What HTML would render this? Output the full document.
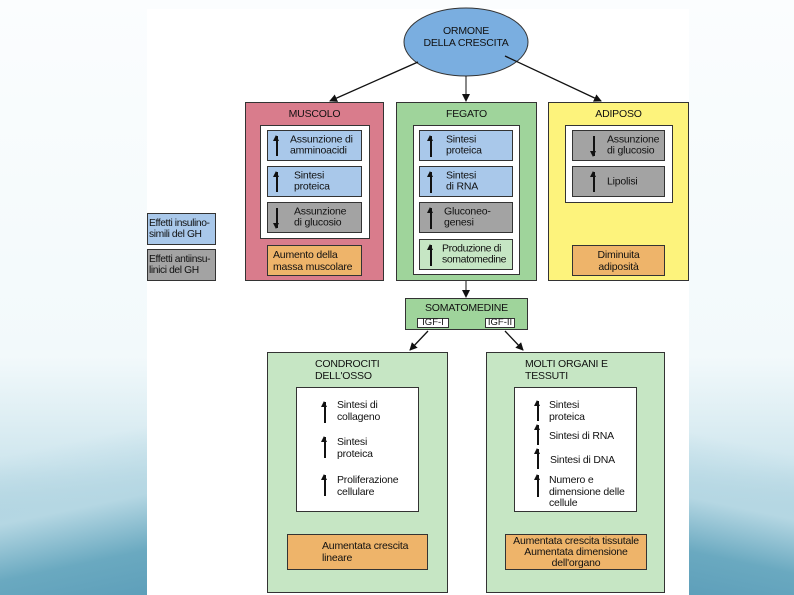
<!DOCTYPE html>
<html><head><meta charset="utf-8"><style>
html,body{margin:0;width:794px;height:595px;overflow:hidden;}
body{position:relative;font-family:"Liberation Sans",sans-serif;color:#111;background:linear-gradient(180deg,#fbfdfe 0%,#f2f9fb 60%,#cfe6ee 78%,#7fb6cb 100%);}
.a{position:absolute;box-sizing:border-box;}
.b{border:1px solid #333;}
.t{font-size:10.5px;line-height:11.5px;letter-spacing:-0.2px;}
.tx{position:absolute;left:22px;top:50%;transform:translateY(-50%);white-space:nowrap;}
.up,.dn{position:absolute;width:1.6px;background:#111;}
.up::before,.dn::before{content:"";position:absolute;left:-3px;border-left:3.8px solid transparent;border-right:3.8px solid transparent;}
.up::before{top:-1px;border-bottom:6px solid #111;}
.dn::before{bottom:-1px;border-top:6px solid #111;}
.blue{background:#a9c8ea;}.gray{background:#a3a3a3;}.or{background:#eeb46a;}.lg{background:#c6e6c4;}
</style></head><body>
<div class="a" style="left:0;top:400px;width:150px;height:195px;background:linear-gradient(168deg,rgba(255,255,255,0) 25%,#b5d7e3 55%,#6aa9c0 80%,#5e9fba 100%)"></div>
<div class="a" style="left:689px;top:400px;width:105px;height:195px;background:linear-gradient(192deg,rgba(255,255,255,0) 25%,#b5d7e3 55%,#6aa9c0 80%,#5e9fba 100%)"></div>
<div class="a" style="left:147px;top:9px;width:542px;height:586px;background:#fff"></div>
<svg class="a" style="left:0;top:0" width="794" height="595">
<defs><marker id="m" markerWidth="8" markerHeight="8" refX="7" refY="4" orient="auto" markerUnits="userSpaceOnUse"><path d="M0,0L8,4L0,8z" fill="#111"/></marker></defs>
<ellipse cx="466" cy="42" rx="62" ry="34" fill="#7aaee0" stroke="#333"/>
<line x1="418" y1="62" x2="330" y2="101" stroke="#111" stroke-width="1.3" marker-end="url(#m)"/>
<line x1="466" y1="76" x2="466" y2="101" stroke="#111" stroke-width="1" marker-end="url(#m)"/>
<line x1="505" y1="56" x2="601" y2="101" stroke="#111" stroke-width="1.3" marker-end="url(#m)"/>
<line x1="466" y1="281" x2="466" y2="297" stroke="#111" stroke-width="1" marker-end="url(#m)"/>
<line x1="428" y1="331" x2="410" y2="350" stroke="#111" stroke-width="1.3" marker-end="url(#m)"/>
<line x1="505" y1="331" x2="523" y2="350" stroke="#111" stroke-width="1.3" marker-end="url(#m)"/>
</svg>
<div class="a t" style="left:404px;top:26px;width:124px;text-align:center;">ORMONE<br>DELLA CRESCITA</div>

<div class="a b" style="left:147px;top:213px;width:69px;height:32px;background:#a9c8ea;font-size:10.3px;line-height:11px;padding:4px 1px;letter-spacing:-0.4px">Effetti insulino-<br>simili del GH</div>
<div class="a b" style="left:147px;top:249px;width:69px;height:32px;background:#a3a3a3;font-size:10.3px;line-height:11px;padding:4px 1px;letter-spacing:-0.4px">Effetti antiinsu-<br>linici del GH</div>

<!-- Muscolo -->
<div class="a b" style="left:245px;top:102px;width:139px;height:179px;background:#d97c8c"></div>
<div class="a t" style="left:245px;top:109px;width:139px;text-align:center">MUSCOLO</div>
<div class="a b" style="left:260px;top:125px;width:110px;height:114px;background:#fff"></div>
<div class="a b t blue" style="left:267px;top:130px;width:95px;height:31px"><i class="up" style="left:8px;top:5px;height:20px"></i><span class="tx">Assunzione di<br>amminoacidi</span></div>
<div class="a b t blue" style="left:267px;top:166px;width:95px;height:31px"><i class="up" style="left:8px;top:5px;height:20px"></i><span class="tx" style="left:26px">Sintesi<br>proteica</span></div>
<div class="a b t gray" style="left:267px;top:202px;width:95px;height:31px"><i class="dn" style="left:8px;top:5px;height:20px"></i><span class="tx" style="left:26px">Assunzione<br>di glucosio</span></div>
<div class="a b t or" style="left:267px;top:245px;width:95px;height:31px;padding:4px 5px">Aumento della<br>massa muscolare</div>

<!-- Fegato -->
<div class="a b" style="left:396px;top:102px;width:141px;height:179px;background:#9fd49b"></div>
<div class="a t" style="left:396px;top:109px;width:141px;text-align:center">FEGATO</div>
<div class="a b" style="left:413px;top:125px;width:107px;height:150px;background:#fff"></div>
<div class="a b t blue" style="left:419px;top:130px;width:94px;height:31px"><i class="up" style="left:10px;top:5px;height:21px"></i><span class="tx" style="left:26px">Sintesi<br>proteica</span></div>
<div class="a b t blue" style="left:419px;top:166px;width:94px;height:31px"><i class="up" style="left:10px;top:5px;height:21px"></i><span class="tx" style="left:26px">Sintesi<br>di RNA</span></div>
<div class="a b t gray" style="left:419px;top:202px;width:94px;height:31px"><i class="up" style="left:10px;top:5px;height:21px"></i><span class="tx" style="left:24px">Gluconeo-<br>genesi</span></div>
<div class="a b t lg" style="left:419px;top:239px;width:94px;height:31px"><i class="up" style="left:10px;top:5px;height:21px"></i><span class="tx" style="left:22px;letter-spacing:-0.4px">Produzione di<br>somatomedine</span></div>

<!-- Adiposo -->
<div class="a b" style="left:548px;top:102px;width:141px;height:179px;background:#fdf37c"></div>
<div class="a t" style="left:548px;top:109px;width:141px;text-align:center">ADIPOSO</div>
<div class="a b" style="left:565px;top:125px;width:108px;height:78px;background:#fff"></div>
<div class="a b t gray" style="left:572px;top:130px;width:93px;height:31px"><i class="dn" style="left:20px;top:5px;height:20px"></i><span class="tx" style="left:34px">Assunzione<br>di glucosio</span></div>
<div class="a b t gray" style="left:572px;top:166px;width:93px;height:31px"><i class="up" style="left:20px;top:5px;height:20px"></i><span class="tx" style="left:34px">Lipolisi</span></div>
<div class="a b t or" style="left:572px;top:245px;width:93px;height:31px;padding:4px 4px;text-align:center">Diminuita<br>adiposità</div>

<!-- Somatomedine -->
<div class="a b" style="left:405px;top:298px;width:123px;height:32px;background:#9fd49b"></div>
<div class="a t" style="left:405px;top:303px;width:123px;text-align:center">SOMATOMEDINE</div>
<div class="a b" style="left:417px;top:318px;width:32px;height:10px;background:#fff;font-size:9.5px;line-height:8px;text-align:center">IGF-I</div>
<div class="a b" style="left:485px;top:318px;width:30px;height:10px;background:#fff;font-size:9.5px;line-height:8px;text-align:center">IGF-II</div>

<!-- Condrociti -->
<div class="a b" style="left:267px;top:352px;width:181px;height:241px;background:#c6e6c4"></div>
<div class="a t" style="left:315px;top:359px">CONDROCITI<br>DELL'OSSO</div>
<div class="a b" style="left:296px;top:387px;width:123px;height:125px;background:#fff"></div>
<i class="up a" style="left:324px;top:402px;height:21px"></i>
<div class="a t" style="left:337px;top:400px">Sintesi di<br>collageno</div>
<i class="up a" style="left:324px;top:437px;height:21px"></i>
<div class="a t" style="left:337px;top:437px">Sintesi<br>proteica</div>
<i class="up a" style="left:324px;top:475px;height:21px"></i>
<div class="a t" style="left:337px;top:475px">Proliferazione<br>cellulare</div>
<div class="a b t or" style="left:287px;top:534px;width:141px;height:36px;padding:6px 0 0 34px">Aumentata crescita<br>lineare</div>

<!-- Molti organi -->
<div class="a b" style="left:486px;top:352px;width:179px;height:241px;background:#c6e6c4"></div>
<div class="a t" style="left:525px;top:359px">MOLTI ORGANI E<br>TESSUTI</div>
<div class="a b" style="left:514px;top:387px;width:123px;height:125px;background:#fff"></div>
<i class="up a" style="left:537px;top:401px;height:20px"></i>
<div class="a t" style="left:549px;top:400px">Sintesi<br>proteica</div>
<i class="up a" style="left:537px;top:425px;height:20px"></i>
<div class="a t" style="left:549px;top:431px">Sintesi di RNA</div>
<i class="up a" style="left:537px;top:449px;height:20px"></i>
<div class="a t" style="left:550px;top:455px">Sintesi di DNA</div>
<i class="up a" style="left:537px;top:475px;height:22px"></i>
<div class="a t" style="left:549px;top:475px">Numero e<br>dimensione delle<br>cellule</div>
<div class="a b t or" style="left:505px;top:534px;width:142px;height:36px;padding:1px 0 0;text-align:center;line-height:11px">Aumentata crescita tissutale<br>Aumentata dimensione<br>dell'organo</div>
</body></html>
